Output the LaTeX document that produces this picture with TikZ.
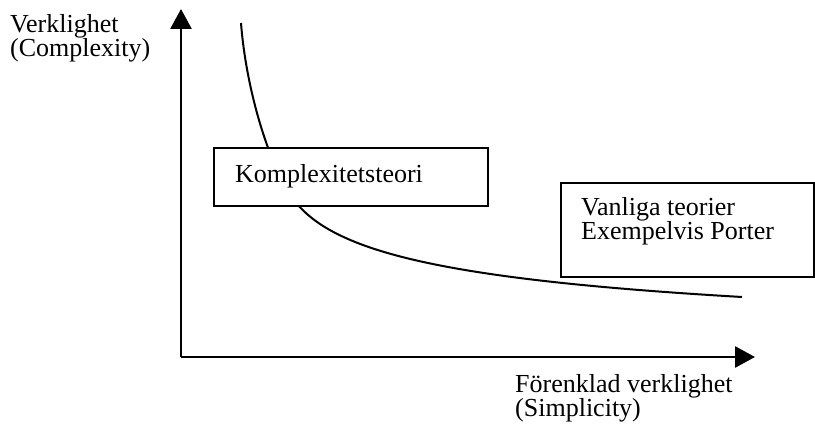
\documentclass[tikz,border=0pt]{standalone}
\usepackage{fontspec}
\setmainfont{Liberation Serif}
\usetikzlibrary{arrows.meta}
\begin{document}
\begin{tikzpicture}[x=1pt, y=-1pt,
  lbl/.style={font=\fontsize{26}{24}\selectfont, inner sep=0pt, align=left, anchor=base west},
  axis/.style={line width=2.8pt, -{Triangle[length=20pt,width=21pt]}},
  curve/.style={line width=2pt},
  box/.style={draw, line width=2pt, fill=white, rectangle, inner sep=0pt, anchor=north west}]
\useasboundingbox (0,0) rectangle (815,430);
% axes
\coordinate (origin) at (181,357);
\coordinate (ytip) at (181,9);
\coordinate (xtip) at (755,357);
\draw[axis] (origin) -- (ytip);
\draw[axis] (origin) -- (xtip);
% trade-off curve
\coordinate (cstart) at (241,23);
\coordinate (cmid) at (298,205);
\coordinate (cend) at (742,297);
\draw[curve] (cstart) .. controls (247,100) and (275,180) .. (cmid)
  .. controls (340,253) and (450,280) .. (cend);
% boxes (multi-line labels are placed by the baseline of their last line)
\node[box, minimum width=274pt, minimum height=58pt] (kbox) at (213,147) {};
\node[lbl] (ktext) at ([xshift=22pt, yshift=-36pt]kbox.north west) {Komplexitetsteori};
\node[box, minimum width=253pt, minimum height=94pt] (vbox) at (560,182) {};
\node[lbl] (vtext) at ([xshift=21pt, yshift=-58pt]vbox.north west) {Vanliga teorier\\Exempelvis Porter};
% axis labels
\node[lbl] (ylabel) at (10,57) {Verklighet\\(Complexity)};
\node[lbl] (xlabel) at (515,417) {Förenklad verklighet\\(Simplicity)};
\end{tikzpicture}
\end{document}
